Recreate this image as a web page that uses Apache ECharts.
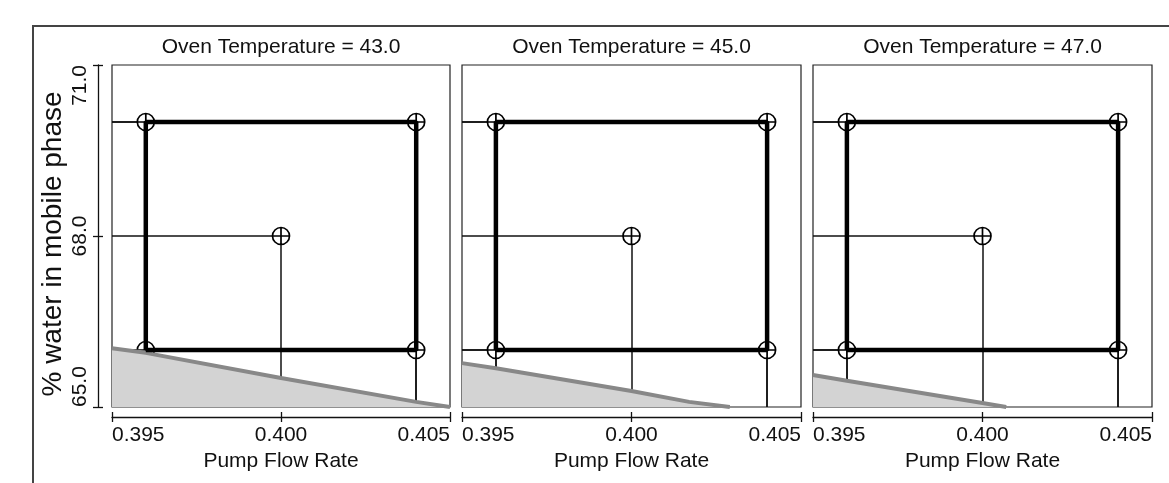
<!DOCTYPE html>
<html>
<head>
<meta charset="utf-8">
<script src="https://cdn.jsdelivr.net/npm/echarts@6.0.0/dist/echarts.min.js"></script>
<style>
  html, body { margin: 0; padding: 0; background: #fff; }
  #main { width: 1169px; height: 483px; }
</style>
</head>
<body>
<div id="main"></div>
<script>
// panel labels (oven temperature)
var temperatures = ['43.0', '45.0', '47.0'];

// axis ranges
var flowMin = 0.395, flowMax = 0.405, flowStep = 0.005;
var waterMin = 65, waterMax = 71, waterStep = 3;

// design points: pump flow rate, % water
var cornerPoints = [[0.396, 66], [0.396, 70], [0.404, 70], [0.404, 66]];
var centerPoint = [0.400, 68];

// edge of the shaded region
var boundary43 = [[0.395, 66.03], [0.396, 65.95], [0.400, 65.51], [0.404, 65.09], [0.405, 65.0]];
var boundary45 = [[0.395, 65.77], [0.396, 65.68], [0.400, 65.28], [0.4017, 65.09], [0.4029, 65.0]];
var boundary47 = [[0.395, 65.56], [0.396, 65.46], [0.400, 65.07], [0.4007, 65.0]];
var boundaries = [boundary43, boundary45, boundary47];

var font = "'Liberation Sans', Arial, sans-serif";
var ink = '#111';

var chart = echarts.init(document.getElementById('main'));

var panels = [
  { left: 112, width: 338 },
  { left: 462, width: 339 },
  { left: 813, width: 339 }
];
var top0 = 65, plotH = 342;

var crossCircle = 'path://M0,9A9,9,0,1,1,18,9A9,9,0,1,1,0,9ZM9,0L9,18M0,9L18,9';

var grids = [], xAxes = [], yAxes = [], series = [], graphics = [];

// outer frame
graphics.push({
  type: 'rect',
  shape: { x: 33, y: 26, width: 1200, height: 520 },
  style: { fill: 'none', stroke: '#444', lineWidth: 2 },
  silent: true
});

panels.forEach(function (p, i) {
  grids.push({
    left: p.left, top: top0, width: p.width, height: plotH,
    show: true, borderColor: '#222', borderWidth: 1.2, backgroundColor: 'transparent'
  });

  graphics.push({
    type: 'text',
    x: p.left + p.width / 2,
    y: 47,
    style: {
      text: 'Oven Temperature = ' + temperatures[i],
      font: '21px ' + font,
      fill: ink,
      align: 'center',
      verticalAlign: 'middle'
    }
  });

  xAxes.push({
    gridIndex: i,
    type: 'value',
    min: flowMin, max: flowMax, interval: flowStep,
    position: 'bottom', offset: 10,
    axisLine: { show: true, lineStyle: { color: ink, width: 1.3 } },
    axisTick: { show: true, length: 5, lineStyle: { color: ink, width: 1.3 } },
    axisLabel: {
      formatter: function (v) { return v.toFixed(3); },
      fontSize: 21, color: ink, fontFamily: font, margin: 8,
      showMinLabel: true, showMaxLabel: true,
      alignMinLabel: 'left', alignMaxLabel: 'right'
    },
    splitLine: { show: false },
    name: 'Pump Flow Rate',
    nameLocation: 'middle',
    nameGap: 33,
    nameTextStyle: { fontSize: 21, color: ink, fontFamily: font }
  });

  if (i === 0) {
    yAxes.push({
      gridIndex: 0,
      type: 'value',
      min: waterMin, max: waterMax, interval: waterStep,
      position: 'left', offset: 14,
      axisLine: { show: true, lineStyle: { color: ink, width: 1.3 } },
      axisTick: { show: true, length: 5, lineStyle: { color: ink, width: 1.3 } },
      axisLabel: {
        formatter: function (v) { return v.toFixed(1); },
        rotate: 90,
        fontSize: 21, color: ink, fontFamily: font, margin: 7,
        align: 'center', verticalAlign: 'bottom',
        alignMinLabel: 'left', alignMaxLabel: 'right',
        showMinLabel: true, showMaxLabel: true
      },
      splitLine: { show: false },
      name: '% water in mobile phase',
      nameLocation: 'middle',
      nameRotate: 90,
      nameGap: 31,
      nameTextStyle: { fontSize: 28, color: ink, fontFamily: font, padding: [0, 16, 0, 0] }
    });
  } else {
    yAxes.push({
      gridIndex: i, type: 'value',
      min: waterMin, max: waterMax, interval: waterStep,
      show: false
    });
  }

  // shaded region below the boundary
  series.push({
    type: 'line',
    xAxisIndex: i, yAxisIndex: i,
    data: boundaries[i],
    showSymbol: false,
    silent: true,
    lineStyle: { color: '#888', width: 4 },
    areaStyle: { color: '#d3d3d3', opacity: 1, origin: 'start' }
  });

  // thin reference lines from each design point to the axes
  var pts = cornerPoints.concat([centerPoint]);
  var segs = [];
  pts.forEach(function (pt) {
    segs.push({ coords: [[flowMin, pt[1]], pt] });
    segs.push({ coords: [pt, [pt[0], waterMin]] });
  });
  series.push({
    type: 'lines',
    coordinateSystem: 'cartesian2d',
    xAxisIndex: i, yAxisIndex: i,
    silent: true,
    lineStyle: { color: ink, width: 1.5, opacity: 1 },
    data: segs
  });

  // cube edges
  series.push({
    type: 'line',
    xAxisIndex: i, yAxisIndex: i,
    data: cornerPoints.concat([cornerPoints[0]]),
    showSymbol: false,
    silent: true,
    lineStyle: { color: '#000', width: 4.5 }
  });

  // design point markers
  series.push({
    type: 'scatter',
    xAxisIndex: i, yAxisIndex: i,
    data: pts,
    symbol: crossCircle,
    symbolSize: 17,
    silent: true,
    itemStyle: { color: '#fff', borderColor: '#000', borderWidth: 1.7, opacity: 1 }
  });
});

// second set of axes: inward half of the crossing ticks
panels.forEach(function (p, i) {
  xAxes.push({
    gridIndex: i, type: 'value',
    min: flowMin, max: flowMax, interval: flowStep,
    position: 'bottom', offset: 10,
    axisLine: { show: false },
    axisTick: { show: true, inside: true, length: 5, lineStyle: { color: ink, width: 1.3 } },
    axisLabel: { show: false },
    splitLine: { show: false }
  });
});
yAxes.push({
  gridIndex: 0, type: 'value',
  min: waterMin, max: waterMax, interval: waterStep,
  position: 'left', offset: 14,
  axisLine: { show: false },
  axisTick: { show: true, inside: true, length: 5, lineStyle: { color: ink, width: 1.3 } },
  axisLabel: { show: false },
  splitLine: { show: false }
});

chart.setOption({
  animation: false,
  backgroundColor: '#fff',
  grid: grids,
  xAxis: xAxes,
  yAxis: yAxes,
  series: series,
  graphic: graphics
});
</script>
</body>
</html>
